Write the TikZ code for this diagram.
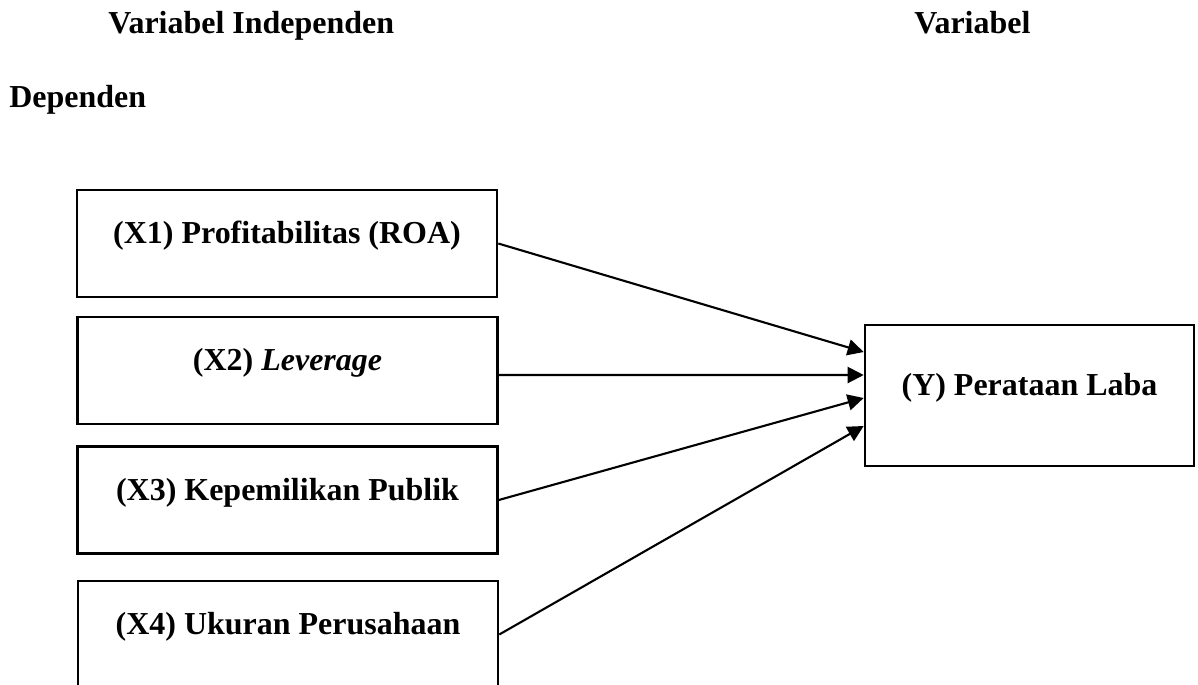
\documentclass[tikz,border=0pt]{standalone}
\usepackage{fontspec}
\setmainfont{Liberation Serif}
\usetikzlibrary{arrows.meta,positioning}

\begin{document}
\begin{tikzpicture}[x=0.02cm, y=-0.02cm,
  font=\fontsize{18.2}{22}\selectfont\bfseries,
  kotak/.style={draw, line width=1.5pt, inner sep=0pt, minimum width=8.4cm,
    minimum height=2.14cm, text height=0.5cm, text depth=0.5cm},
  judul/.style={inner sep=0pt, anchor=base west},
  panah/.style={-{Triangle[length=0.32cm, width=0.32cm]}, line width=1.2pt}]

\useasboundingbox (0,0) rectangle (1198,684);
\clip (0,0) rectangle (1198,684);

% Judul kolom
\node[judul] (jdl1) at (108,33) {Variabel Independen};
\node[judul] (jdl2) at (914,33) {Variabel};
\node[judul] (jdl3) at (9,107) {Dependen};

% Variabel independen
\node[kotak] (x1) at (287,243.5) {(X1) Profitabilitas (ROA)};
\node[kotak] (x2) at (287.5,370.5) {(X2) \textit{Leverage}};
\node[kotak] (x3) at (287.5,500) {(X3) Kepemilikan Publik};
\node[kotak] (x4) at (288,634.5) {(X4) Ukuran Perusahaan};

% Variabel dependen
\node[kotak, minimum width=6.58cm, minimum height=2.82cm] (y) at (1029.5,395.5) {(Y) Perataan Laba};

% Panah pengaruh
\draw[panah] (x1.east) -- ([yshift=0.87cm]y.west);
\draw[panah] ([yshift=-0.09cm]x2.east) -- ([yshift=0.41cm]y.west);
\draw[panah] (x3.east) -- ([yshift=-0.05cm]y.west);
\draw[panah] (x4.east) -- ([yshift=-0.61cm]y.west);

\end{tikzpicture}
\end{document}
